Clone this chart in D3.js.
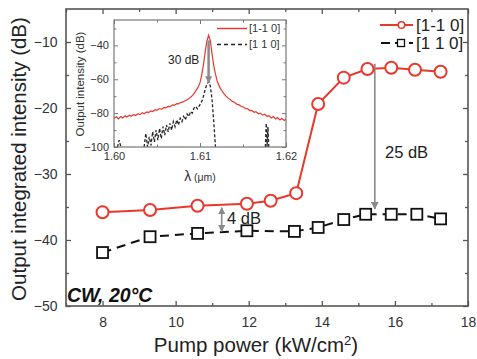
<!DOCTYPE html>
<html>
<head>
<meta charset="utf-8">
<script src="https://cdn.jsdelivr.net/npm/d3@7"></script>
<style>
  body { margin: 0; background: #fff; }
  svg { display: block; font-family: "Liberation Sans", Arial, sans-serif; }
</style>
</head>
<body>
<div id="chart"></div>
<script>
// main plot: integrated intensity vs pump power
const pumpRed = [8, 9.3, 10.6, 11.95, 12.6, 13.3, 13.9, 14.6, 15.25, 15.9, 16.55, 17.25];
const intRed = [-35.8, -35.45, -34.8, -34.5, -34.05, -32.9, -19.4, -15.4, -14.1, -13.9, -14.2, -14.5];
const pumpBlack = [8, 9.3, 10.6, 11.95, 13.25, 13.9, 14.6, 15.2, 15.9, 16.6, 17.25];
const intBlack = [-41.9, -39.5, -39.0, -38.6, -38.7, -38.1, -36.9, -36.1, -36.1, -36.1, -36.8];
const xTicks = [8, 10, 12, 14, 16, 18];
const yTicks = [-50, -40, -30, -20, -10];
const seriesNames = ["[1-1 0]", "[1 1 0]"];

// inset: spectra
const lamRed = [1.6000, 1.6003, 1.6005, 1.6008, 1.6010, 1.6013, 1.6015, 1.6018, 1.6020, 1.6023,
  1.6025, 1.6028, 1.6030, 1.6033, 1.6035, 1.6038, 1.6040, 1.6043, 1.6045, 1.6048,
  1.6050, 1.6053, 1.6055, 1.6058, 1.6060, 1.6063, 1.6065, 1.6068, 1.6070, 1.6073,
  1.6075, 1.6078, 1.6080, 1.6083, 1.6085, 1.6088, 1.6090, 1.6093, 1.6095, 1.6098,
  1.6100, 1.6102, 1.6104, 1.6106, 1.6108, 1.6110, 1.6112, 1.6114, 1.6116, 1.6118,
  1.6120, 1.6123, 1.6125, 1.6128, 1.6130, 1.6133, 1.6135, 1.6138, 1.6140, 1.6143,
  1.6145, 1.6148, 1.6150, 1.6153, 1.6155, 1.6158, 1.6160, 1.6163, 1.6165, 1.6168,
  1.6170, 1.6173, 1.6175, 1.6178, 1.6180, 1.6183, 1.6185, 1.6188, 1.6190, 1.6193,
  1.6195, 1.6198, 1.6200];
const specRed = [-83.0, -82.2, -83.4, -82.0, -82.8, -81.5, -82.3, -81.2, -81.9, -80.8,
  -81.4, -80.3, -80.9, -79.8, -80.4, -79.3, -79.7, -78.7, -79.1, -78.0,
  -78.3, -77.3, -77.7, -76.7, -76.9, -76.0, -76.2, -75.2, -75.4, -74.4,
  -74.5, -73.6, -73.5, -72.5, -72.2, -71.0, -70.2, -68.5, -67.0, -64.5,
  -62.0, -57.5, -51.5, -44.0, -37.5, -34.0, -37.0, -45.0, -52.0, -57.0,
  -61.0, -64.8, -66.5, -68.6, -69.8, -71.3, -72.0, -73.2, -73.6, -74.8,
  -75.0, -76.1, -76.3, -77.4, -77.3, -78.5, -78.4, -79.5, -79.2, -80.4,
  -80.0, -81.2, -80.7, -82.0, -81.4, -82.8, -82.0, -83.4, -82.6, -84.0,
  -83.0, -84.3, -83.5];
const lamBlack = [1.6004, 1.6006, 1.6008, 1.6020,
  1.6035, 1.6037, 1.6039, 1.6041, 1.6043, 1.6045, 1.6047, 1.6049, 1.6051, 1.6053,
  1.6055, 1.6057, 1.6059, 1.6061, 1.6063, 1.6065, 1.6067, 1.6069, 1.6071, 1.6073,
  1.6075, 1.6077, 1.6079, 1.6081, 1.6083, 1.6085, 1.6087, 1.6089, 1.6091, 1.6093,
  1.6095, 1.6097, 1.6100, 1.6103, 1.6106, 1.6108, 1.6110, 1.6112, 1.6114, 1.6116,
  1.6118, 1.6150,
  1.6176, 1.6177, 1.6178, 1.6179, 1.6180];
const specBlack = [-100, -96, -100, null,
  -100, -92, -100, -94, -99, -91, -97, -90, -96, -89,
  -95, -88, -93, -87, -91, -86, -90, -85, -88, -84,
  -87, -83, -85, -82, -84, -80.5, -82, -79, -80, -77,
  -76, -77.5, -75, -72, -66, -63, -61.5, -64, -72, -85,
  -100, null,
  -100, -86, -100, -88, -100];
const insetXTicks = [1.60, 1.61, 1.62];
const insetYTicks = [-100, -80, -60, -40];

const W = 477, H = 359;
const red = "#e8382c", frame = "#555", gray = "#8a8a8a";

const svg = d3.select("#chart").append("svg")
    .attr("width", W)
    .attr("height", H);

const x = d3.scaleLinear().domain([7, 18]).range([66, 468]);
const y = d3.scaleLinear().domain([-50, -5]).range([306, 9]);

// axes, ticks pointing inward on all four sides
function addAxis(axis, tr, vals, size, labels) {
    const g = svg.append("g").attr("transform", tr)
        .call(axis.tickValues(vals).tickSizeInner(size).tickSizeOuter(0).tickPadding(7)
            .tickFormat(labels ? d3.format("d") : ""));
    g.select(".domain").remove();
    g.selectAll("line").attr("stroke", frame).attr("stroke-width", 1.3);
    g.selectAll("text").attr("font-size", 14).attr("fill", "#333")
        .attr("font-family", "Liberation Sans, Arial, sans-serif");
    return g;
}
const xMinor = d3.range(7, 18, 1).filter(v => !xTicks.includes(v));
const yMinor = [-45, -35, -25, -15];
addAxis(d3.axisBottom(x), "translate(0,306)", xTicks, -5, true).selectAll("text").attr("dy", "1.0em");
addAxis(d3.axisBottom(x), "translate(0,306)", xMinor, -3, false);
addAxis(d3.axisTop(x), "translate(0,9)", xTicks, -5, false);
addAxis(d3.axisTop(x), "translate(0,9)", xMinor, -3, false);
addAxis(d3.axisLeft(y), "translate(66,0)", yTicks, -5, true).selectAll("text").attr("dx", "-0.1em");
addAxis(d3.axisLeft(y), "translate(66,0)", yMinor, -3, false);
addAxis(d3.axisRight(y), "translate(468,0)", yTicks, -5, false);
addAxis(d3.axisRight(y), "translate(468,0)", yMinor, -3, false);

svg.append("rect")
    .attr("x", 66).attr("y", 9)
    .attr("width", 402).attr("height", 297)
    .attr("fill", "none")
    .attr("stroke", frame)
    .attr("stroke-width", 1.6);

// axis titles
svg.append("text")
    .attr("transform", "translate(26,159) rotate(-90)")
    .attr("text-anchor", "middle")
    .attr("font-size", 20.5)
    .attr("fill", "#222")
    .text("Output integrated intensity (dB)");

const xt = svg.append("text")
    .attr("x", 256).attr("y", 352)
    .attr("text-anchor", "middle")
    .attr("font-size", 20.5)
    .attr("fill", "#222");
xt.append("tspan").text("Pump power (kW/cm");
xt.append("tspan").attr("font-size", 13).attr("dy", -7).text("2");
xt.append("tspan").attr("dy", 7).text(")");

// arrow markers
const defs = svg.append("defs");
function arrowHead(id, size) {
    defs.append("marker")
        .attr("id", id)
        .attr("viewBox", "0 0 10 10")
        .attr("refX", 9).attr("refY", 5)
        .attr("markerWidth", size).attr("markerHeight", size)
        .attr("markerUnits", "userSpaceOnUse")
        .attr("orient", "auto-start-reverse")
        .append("path")
        .attr("d", "M0,0 L10,5 L0,10 z")
        .attr("fill", gray);
}
arrowHead("ah", 8);
arrowHead("ahs", 7);

// data lines
const line = d3.line().x(d => x(d[0])).y(d => y(d[1]));
const redData = d3.zip(pumpRed, intRed);
const blackData = d3.zip(pumpBlack, intBlack);

svg.append("path")
    .datum(blackData)
    .attr("d", line)
    .attr("fill", "none")
    .attr("stroke", "#111")
    .attr("stroke-width", 2)
    .attr("stroke-dasharray", "9,6");

svg.append("path")
    .datum(redData)
    .attr("d", line)
    .attr("fill", "none")
    .attr("stroke", red)
    .attr("stroke-width", 2);

// annotation arrows (drawn under the markers)
svg.append("line")
    .attr("x1", x(15.45)).attr("y1", y(-13.3))
    .attr("x2", x(15.45)).attr("y2", y(-35.3))
    .attr("stroke", gray).attr("stroke-width", 1.6)
    .attr("marker-end", "url(#ah)");
svg.append("line")
    .attr("x1", x(11.26)).attr("y1", y(-35.1))
    .attr("x2", x(11.26)).attr("y2", y(-38.7))
    .attr("stroke", gray).attr("stroke-width", 1.6)
    .attr("marker-start", "url(#ahs)")
    .attr("marker-end", "url(#ahs)");

svg.selectAll(".sq")
    .data(blackData)
    .enter().append("rect")
    .attr("x", d => x(d[0]) - 5.5)
    .attr("y", d => y(d[1]) - 5.5)
    .attr("width", 11).attr("height", 11)
    .attr("fill", "#fff")
    .attr("stroke", "#111")
    .attr("stroke-width", 1.8);

svg.selectAll(".ci")
    .data(redData)
    .enter().append("circle")
    .attr("cx", d => x(d[0]))
    .attr("cy", d => y(d[1]))
    .attr("r", 6)
    .attr("fill", "#fff")
    .attr("stroke", red)
    .attr("stroke-width", 2);

svg.append("text").attr("x", 385).attr("y", 158)
    .attr("font-size", 16.5).attr("fill", "#222").text("25 dB");
svg.append("text").attr("x", 227).attr("y", 224)
    .attr("font-size", 16.5).attr("fill", "#222").text("4 dB");

svg.append("text")
    .attr("x", 67).attr("y", 302)
    .attr("font-size", 19.5)
    .attr("font-weight", "bold")
    .attr("font-style", "italic")
    .attr("fill", "#111")
    .text("CW, 20°C");

// main legend
const leg = svg.append("g");
leg.append("line").attr("x1", 380).attr("x2", 413).attr("y1", 25).attr("y2", 25)
    .attr("stroke", red).attr("stroke-width", 2.2);
leg.append("circle").attr("cx", 401.5).attr("cy", 25).attr("r", 3.3)
    .attr("fill", "#fff").attr("stroke", red).attr("stroke-width", 1.5);
leg.append("line").attr("x1", 381).attr("x2", 413).attr("y1", 43).attr("y2", 43)
    .attr("stroke", "#111").attr("stroke-width", 2.2).attr("stroke-dasharray", "9,5");
leg.append("rect").attr("x", 397.5).attr("y", 39.5).attr("width", 7).attr("height", 7)
    .attr("fill", "#fff").attr("stroke", "#111").attr("stroke-width", 1.3);
seriesNames.forEach((name, i) => {
    leg.append("text")
        .attr("x", 416).attr("y", 25 + i * 18)
        .attr("dy", "0.35em")
        .attr("font-size", 17)
        .attr("fill", "#222")
        .text(name);
});

// ---------- inset ----------
const ix = d3.scaleLinear().domain([1.60, 1.62]).range([114, 286]);
const iy = d3.scaleLinear().domain([-100, -25]).range([147, 20]);
const inset = svg.append("g");

inset.append("rect")
    .attr("x", 114).attr("y", 20)
    .attr("width", 172).attr("height", 127)
    .attr("fill", "#fff");

const clip = defs.append("clipPath").attr("id", "iclip");
clip.append("rect").attr("x", 114).attr("y", 20).attr("width", 172).attr("height", 127.5);

function insetAxis(axis, tr, vals, size, fmt) {
    const g = inset.append("g").attr("transform", tr)
        .call(axis.tickValues(vals).tickSizeInner(size).tickSizeOuter(0).tickPadding(5)
            .tickFormat(fmt || ""));
    g.select(".domain").remove();
    g.selectAll("line").attr("stroke", "#777").attr("stroke-width", 1);
    g.selectAll("text").attr("font-size", 11).attr("fill", "#333")
        .attr("font-family", "Liberation Sans, Arial, sans-serif");
    return g;
}
insetAxis(d3.axisBottom(ix), "translate(0,147)", insetXTicks, -4, d3.format(".2f"));
insetAxis(d3.axisBottom(ix), "translate(0,147)", [1.605, 1.615], -2.5);
insetAxis(d3.axisTop(ix), "translate(0,20)", insetXTicks, -4);
insetAxis(d3.axisTop(ix), "translate(0,20)", [1.605, 1.615], -2.5);
insetAxis(d3.axisLeft(iy), "translate(114,0)", insetYTicks, -4, d3.format("d"));
insetAxis(d3.axisLeft(iy), "translate(114,0)", [-90, -70, -50, -30], -2.5);
insetAxis(d3.axisRight(iy), "translate(286,0)", insetYTicks, -4);
insetAxis(d3.axisRight(iy), "translate(286,0)", [-90, -70, -50, -30], -2.5);

const iline = d3.line()
    .defined(d => d[1] !== null)
    .x(d => ix(d[0]))
    .y(d => iy(d[1]));

const plot = inset.append("g").attr("clip-path", "url(#iclip)");
plot.append("path")
    .datum(d3.zip(lamBlack, specBlack))
    .attr("d", iline)
    .attr("fill", "none")
    .attr("stroke", "#222")
    .attr("stroke-width", 1.3)
    .attr("stroke-dasharray", "3,2");
plot.append("path")
    .datum(d3.zip(lamRed, specRed))
    .attr("d", iline)
    .attr("fill", "none")
    .attr("stroke", red)
    .attr("stroke-width", 1.2);

inset.append("line")
    .attr("x1", ix(1.611)).attr("y1", iy(-37))
    .attr("x2", ix(1.611)).attr("y2", iy(-62))
    .attr("stroke", gray).attr("stroke-width", 2.5)
    .attr("marker-end", "url(#ahs)");

inset.append("text")
    .attr("x", 168).attr("y", 64)
    .attr("font-size", 12)
    .attr("fill", "#222")
    .text("30 dB");

inset.append("rect")
    .attr("x", 114).attr("y", 20)
    .attr("width", 172).attr("height", 127)
    .attr("fill", "none")
    .attr("stroke", "#777")
    .attr("stroke-width", 1.2);

// inset legend
inset.append("line").attr("x1", 217).attr("x2", 247).attr("y1", 28.5).attr("y2", 28.5)
    .attr("stroke", red).attr("stroke-width", 1.4);
inset.append("line").attr("x1", 217).attr("x2", 247).attr("y1", 44.5).attr("y2", 44.5)
    .attr("stroke", "#222").attr("stroke-width", 1.4).attr("stroke-dasharray", "4,3");
seriesNames.forEach((name, i) => {
    inset.append("text")
        .attr("x", 249).attr("y", 28.5 + i * 16)
        .attr("dy", "0.35em")
        .attr("font-size", 11)
        .attr("fill", "#333")
        .text(name);
});

inset.append("text")
    .attr("transform", "translate(84,84) rotate(-90)")
    .attr("text-anchor", "middle")
    .attr("font-size", 11.5)
    .attr("fill", "#333")
    .text("Output intensity (dB)");

const lt = inset.append("text")
    .attr("x", 200).attr("y", 181)
    .attr("text-anchor", "middle")
    .attr("fill", "#333");
lt.append("tspan").attr("font-size", 14).text("λ");
lt.append("tspan").attr("font-size", 10.5).text(" (μm)");
</script>
</body>
</html>
